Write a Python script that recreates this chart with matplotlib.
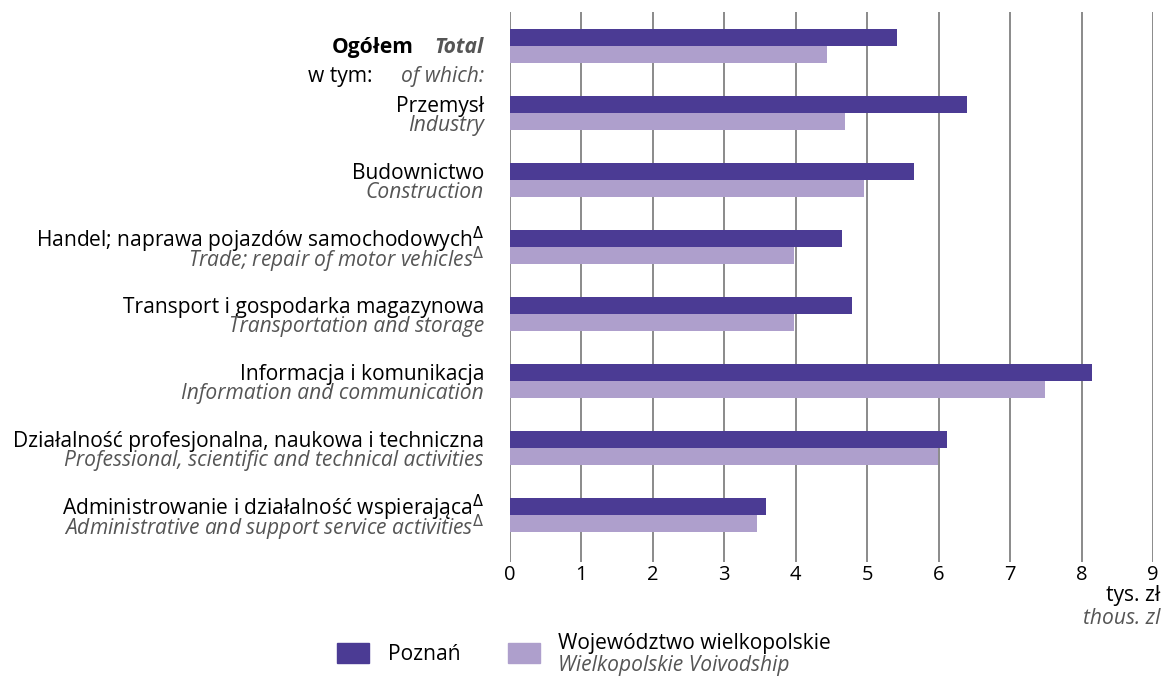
import matplotlib
import matplotlib.pyplot as plt
import matplotlib.transforms as mtransforms
from matplotlib.patches import Rectangle

matplotlib.use("agg")

# data (thous. zl)
labels_pl = [
    "Przemysł",
    "Budownictwo",
    "Handel; naprawa pojazdów samochodowych$^{\\Delta}$",
    "Transport i gospodarka magazynowa",
    "Informacja i komunikacja",
    "Działalność profesjonalna, naukowa i techniczna",
    "Administrowanie i działalność wspierająca$^{\\Delta}$",
]
labels_en = [
    "Industry",
    "Construction",
    "Trade; repair of motor vehicles$^{\\Delta}$",
    "Transportation and storage",
    "Information and communication",
    "Professional, scientific and technical activities",
    "Administrative and support service activities$^{\\Delta}$",
]
poznan = [5.41, 6.40, 5.66, 4.65, 4.78, 8.15, 6.12, 3.59]
wielkopolska = [4.44, 4.69, 4.96, 3.98, 3.98, 7.49, 5.99, 3.46]
xticks = list(range(10))

c_poz = "#4b3b94"
c_woj = "#ae9fcc"
c_en = "#555555"
family = ["Open Sans", "DejaVu Sans"]
fs = 15.1

plt.rcParams["font.family"] = family
plt.rcParams["mathtext.fontset"] = "dejavusans"

W, H = 1163, 676
fig = plt.figure(figsize=(W / 100, H / 100), dpi=100)
ax = fig.add_axes([510 / W, (H - 562) / H, 643 / W, 550 / H])

h = 0.255
pos = list(range(len(poznan)))
ax.barh([p - h / 2 for p in pos], poznan, height=h, color=c_poz, zorder=2)
ax.barh([p + h / 2 for p in pos], wielkopolska, height=h, color=c_woj, zorder=2)

ax.set_xlim(0, 9)
ax.set_ylim(7.70, -0.507)
ax.set_xticks(xticks)
ax.set_xticklabels([str(t) for t in xticks], fontsize=14.5)
ax.set_yticks([])
ax.tick_params(axis="x", length=0, pad=2)
for t in xticks:
    ax.axvline(t, color="#8a8a8a", lw=1.4, zorder=1)
for s in ax.spines.values():
    s.set_visible(False)

# category labels
tr = mtransforms.blended_transform_factory(fig.transFigure, ax.transData)
lx = 484 / W
ax.text(414 / W, 0.03, "Ogółem", transform=tr, ha="right", va="center",
        fontsize=fs, fontweight="bold", color="black")
ax.text(lx, 0.03, "Total", transform=tr, ha="right", va="center",
        fontsize=fs, fontweight="bold", style="italic", color=c_en)
ax.text(372 / W, 0.46, "w tym:", transform=tr, ha="right", va="center",
        fontsize=fs, color="black")
ax.text(lx, 0.46, "of which:", transform=tr, ha="right", va="center",
        fontsize=fs, style="italic", color=c_en)
for i, (pl, en) in enumerate(zip(labels_pl, labels_en)):
    y = i + 1
    ax.text(lx, y - 0.10, pl, transform=tr, ha="right", va="center",
            fontsize=fs, color="black")
    ax.text(lx, y + 0.19, en, transform=tr, ha="right", va="center",
            fontsize=fs, style="italic", color=c_en)

# unit
fig.text(1160 / W, 1 - 595 / H, "tys. zł", ha="right", va="center", fontsize=fs)
fig.text(1160 / W, 1 - 618 / H, "thous. zl", ha="right", va="center",
         fontsize=fs, style="italic", color=c_en)

# legend
fig.patches.append(Rectangle((337 / W, 1 - 663 / H), 32 / W, 20 / H,
                             transform=fig.transFigure, color=c_poz))
fig.text(388 / W, 1 - 654 / H, "Poznań", va="center", fontsize=fs)
fig.patches.append(Rectangle((508 / W, 1 - 663 / H), 32 / W, 20 / H,
                             transform=fig.transFigure, color=c_woj))
fig.text(558 / W, 1 - 643 / H, "Województwo wielkopolskie", va="center", fontsize=fs)
fig.text(558 / W, 1 - 665 / H, "Wielkopolskie Voivodship", va="center",
         fontsize=fs, style="italic", color=c_en)

fig.savefig("out.png", dpi=100)
